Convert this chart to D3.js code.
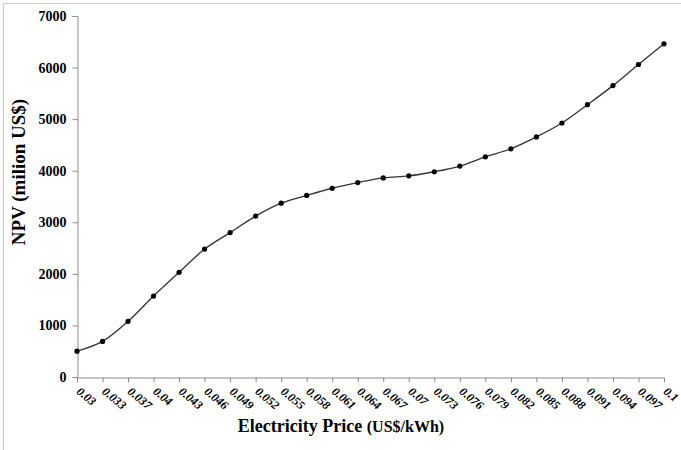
<!DOCTYPE html>
<html>
<head>
<meta charset="utf-8">
<script src="https://cdn.jsdelivr.net/npm/d3@7"></script>
<style>
  body { margin: 0; background: #fff; }
  svg { display: block; }
  svg text { font-family: "Liberation Serif", "Times New Roman", serif; }
</style>
</head>
<body>
<svg id="svg"></svg>
<script>
// electricity price (US$/kWh) vs NPV (million US$)
const prices = ["0.03", "0.033", "0.037", "0.04", "0.043", "0.046", "0.049", "0.052",
    "0.055", "0.058", "0.061", "0.064", "0.067", "0.07", "0.073", "0.076",
    "0.079", "0.082", "0.085", "0.088", "0.091", "0.094", "0.097", "0.1"];
const npv = [500, 690, 1080, 1570, 2030, 2480, 2800, 3120,
    3370, 3520, 3660, 3770, 3860, 3900, 3980, 4090,
    4270, 4425, 4655, 4925, 5280, 5650, 6060, 6460];
const yTicks = [0, 1000, 2000, 3000, 4000, 5000, 6000, 7000];

const width = 681;
const height = 450;

const svg = d3.select('#svg')
    .attr('width', width)
    .attr('height', height);

// frame (only top and left edges show in the source)
svg.append('path')
    .attr('d', `M3.5,${height}V3.5H${width}`)
    .attr('fill', 'none')
    .attr('stroke', '#c8c8c8');

const x = d3.scalePoint().domain(prices).range([77, 664]);
const y = d3.scaleLinear().domain([0, 7000]).range([377, 16]);

const yAxis = svg.append('g')
    .attr('transform', 'translate(77.5,0)')
    .call(d3.axisLeft(y).tickValues(yTicks).tickSize(5).tickPadding(6).tickFormat(d3.format('d')));

const xAxis = svg.append('g')
    .attr('transform', 'translate(0,377.5)')
    .call(d3.axisBottom(x).tickSize(5).tickSizeOuter(0));

[yAxis, xAxis].forEach(g => {
    g.attr('font-family', null);
    g.select('.domain').attr('stroke', '#8c8c8c');
    g.selectAll('.tick line').attr('stroke', '#8c8c8c');
});

yAxis.selectAll('text')
    .attr('font-size', 14)
    .attr('font-weight', 'bold')
    .attr('fill', '#000');

xAxis.selectAll('text')
    .attr('font-size', 12)
    .attr('font-weight', 'bold')
    .attr('font-style', 'italic')
    .attr('fill', '#000')
    .attr('text-anchor', 'start')
    .attr('x', 0)
    .attr('y', 0)
    .attr('dy', '0.35em')
    .attr('transform', 'translate(1,12) rotate(40)');

const line = d3.line()
    .x((d, i) => x(prices[i]))
    .y(d => y(d))
    .curve(d3.curveCatmullRom.alpha(0.5));

svg.append('path')
    .datum(npv)
    .attr('fill', 'none')
    .attr('stroke', '#333')
    .attr('stroke-width', 1.3)
    .attr('d', line);

svg.append('g')
    .selectAll('circle')
    .data(npv)
    .join('circle')
        .attr('cx', (d, i) => x(prices[i]))
        .attr('cy', d => y(d))
        .attr('r', 2.6)
        .attr('fill', '#000');

// axis titles
const xTitle = svg.append('text')
    .attr('x', 341)
    .attr('y', 432)
    .attr('text-anchor', 'middle')
    .attr('font-weight', 'bold')
    .attr('fill', '#000');
xTitle.append('tspan').attr('font-size', 18).text('Electricity Price ');
xTitle.append('tspan').attr('font-size', 16).text('(US$/kWh)');

svg.append('text')
    .attr('transform', 'translate(25,172) rotate(-90)')
    .attr('text-anchor', 'middle')
    .attr('font-size', 19)
    .attr('font-weight', 'bold')
    .attr('fill', '#000')
    .text('NPV (milion US$)');
</script>
</body>
</html>
